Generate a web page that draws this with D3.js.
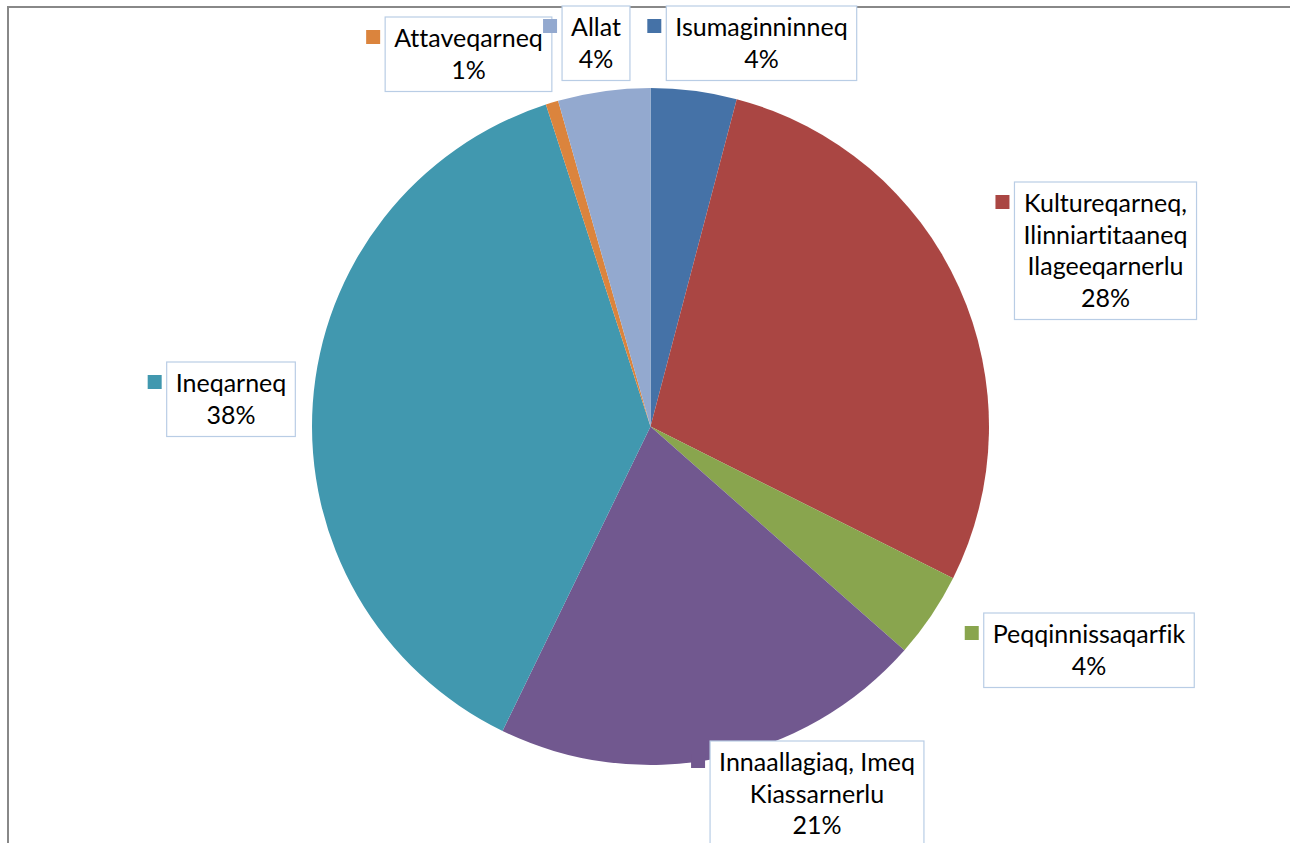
<!DOCTYPE html>
<html>
<head>
<meta charset="utf-8">
<script src="https://cdn.jsdelivr.net/npm/d3@7/dist/d3.min.js"></script>
<style>
  html, body { margin: 0; padding: 0; background: #fff; }
  svg { display: block; }
  text { font-variant-ligatures: none; font-feature-settings: "liga" 0; }
</style>
</head>
<body>
<svg id="chart" width="1290" height="843"></svg>
<script>
// ---- data ----
const categories = [
  "Isumaginninneq",
  "Kultureqarneq, Ilinniartitaaneq Ilageeqarnerlu",
  "Peqqinnissaqarfik",
  "Innaallagiaq, Imeq Kiassarnerlu",
  "Ineqarneq",
  "Attaveqarneq",
  "Allat"
];
const values = [4.1, 28.3, 4.1, 20.7, 37.8, 0.6, 4.4];
const labelLines = [
  ["Isumaginninneq"],
  ["Kultureqarneq,", "Ilinniartitaaneq", "Ilageeqarnerlu"],
  ["Peqqinnissaqarfik"],
  ["Innaallagiaq, Imeq", "Kiassarnerlu"],
  ["Ineqarneq"],
  ["Attaveqarneq"],
  ["Allat"]
];
const colors = ["#4572A7", "#AA4643", "#89A54E", "#71588F", "#4198AF", "#DB843D", "#93A9CF"];

// ---- layout ----
const cx = 650.5, cy = 426.5, radius = 338.5;
const boxLayout = [ // centre x, top y of each label box
  {cx: 761.5, top: 6},
  {cx: 1105.5, top: 182},
  {cx: 1089, top: 613},
  {cx: 817, top: 741},
  {cx: 231, top: 362},
  {cx: 468.5, top: 17},
  {cx: 596, top: 6}
];
const fontFamily = "Lato, 'Open Sans', sans-serif";
const fontSize = 25;
const lineH = 31.5;

const svg = d3.select("#chart");

// chart frame (top and left border)
svg.append("line").attr("x1", 8).attr("y1", 7).attr("x2", 1290).attr("y2", 7)
  .attr("stroke", "#888").attr("stroke-width", 2);
svg.append("line").attr("x1", 8).attr("y1", 6).attr("x2", 8).attr("y2", 843)
  .attr("stroke", "#888").attr("stroke-width", 2);

const total = d3.sum(values);
const pie = d3.pie().sort(null).value(d => d)(values);
const arc = d3.arc().innerRadius(0).outerRadius(radius);
const color = d3.scaleOrdinal().domain(categories).range(colors);

const g = svg.append("g").attr("transform", `translate(${cx},${cy})`);
g.selectAll("path").data(pie).join("path")
  .attr("d", arc)
  .attr("fill", (d, i) => color(categories[i]));

// labels
const labels = svg.append("g");
pie.forEach((d, i) => {
  const lines = labelLines[i].concat([d3.format(".0f")(d.value / total * 100) + "%"]);
  const L = boxLayout[i];
  const grp = labels.append("g");
  const rect = grp.append("rect");
  const texts = grp.selectAll("text").data(lines).join("text")
    .attr("x", L.cx)
    .attr("y", (t, j) => L.top + 30 + j * lineH)
    .attr("text-anchor", "middle")
    .attr("font-family", fontFamily)
    .attr("font-size", fontSize)
    .attr("fill", "#000")
    .text(t => t);
  let w = 0;
  texts.each(function () { w = Math.max(w, this.getComputedTextLength()); });
  const bw = w + 18;
  const bh = 30 + (lines.length - 1) * lineH + 13;
  const left = L.cx - bw / 2;
  rect.attr("x", left).attr("y", L.top).attr("width", bw).attr("height", bh)
    .attr("fill", "#fff").attr("stroke", "#B9CDE5").attr("stroke-width", 1.2);
  grp.append("rect")
    .attr("x", left - 19).attr("y", L.top + 13)
    .attr("width", 14).attr("height", 14)
    .attr("fill", color(categories[i]));
});
</script>
</body>
</html>
